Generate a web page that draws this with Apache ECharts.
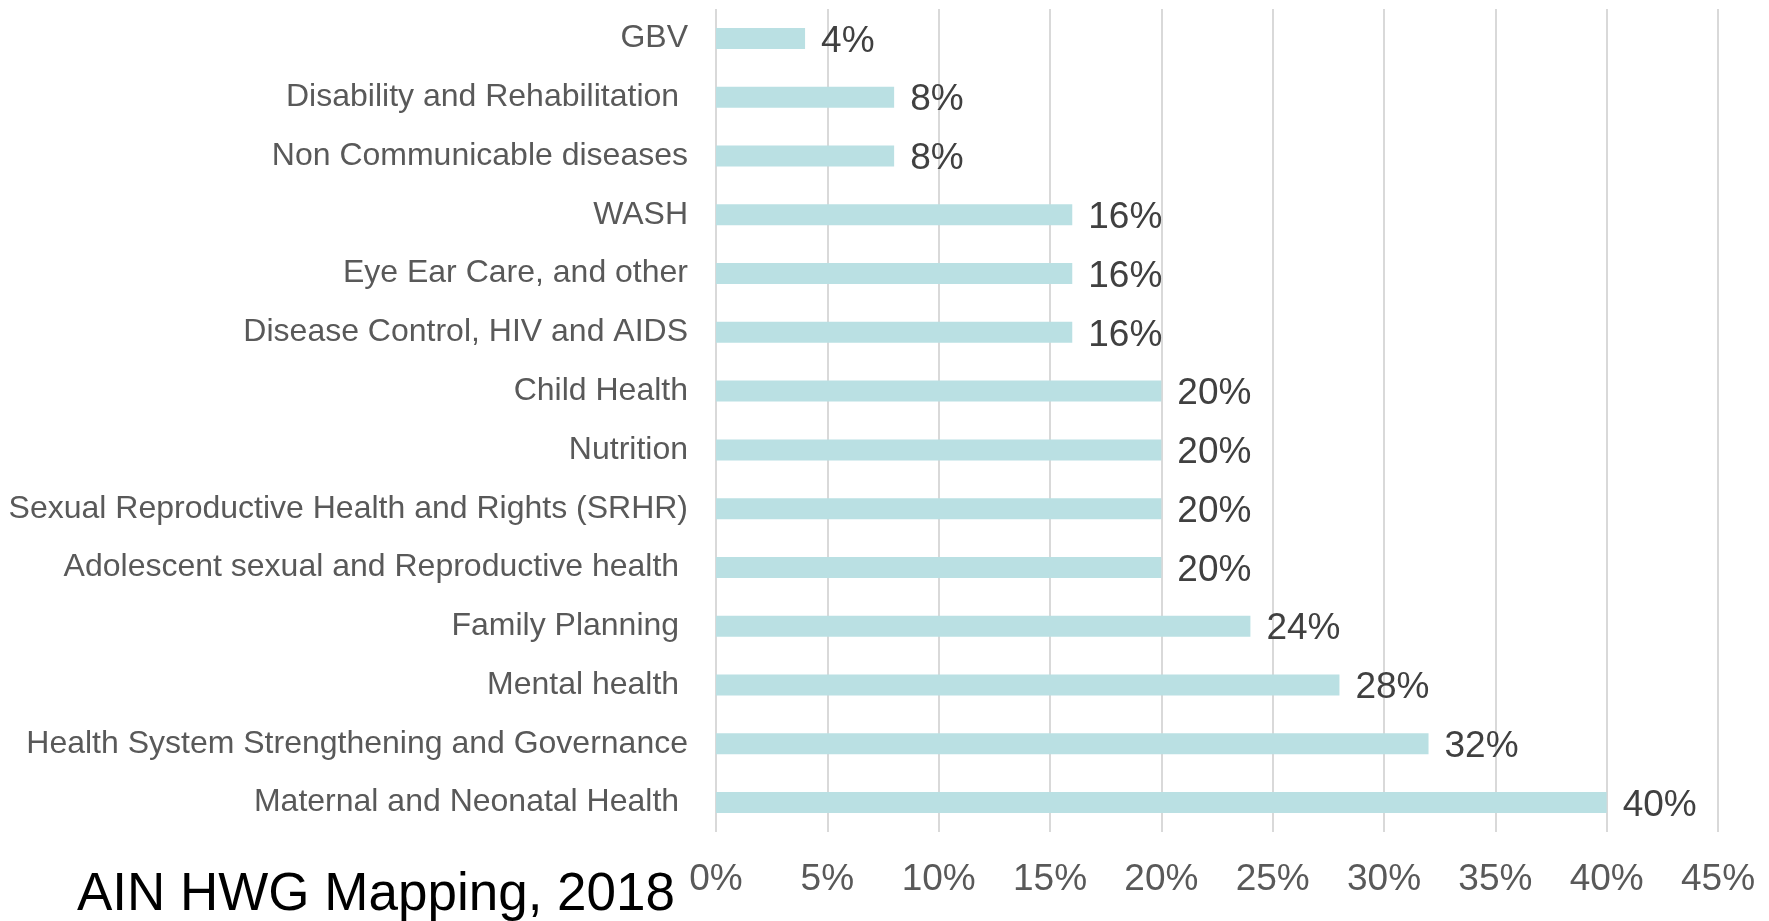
<!DOCTYPE html>
<html>
<head>
<meta charset="utf-8">
<script src="https://cdn.jsdelivr.net/npm/echarts@6/dist/echarts.min.js"></script>
<style>
  html, body { margin: 0; padding: 0; background: #fff; }
  #main { width: 1769px; height: 921px; }
</style>
</head>
<body>
<div id="main"></div>
<script>
// categories top to bottom (some have a trailing space, as in the source)
var categories = [
    'GBV',
    'Disability and Rehabilitation ',
    'Non Communicable diseases',
    'WASH',
    'Eye Ear Care, and other',
    'Disease Control, HIV and AIDS',
    'Child Health',
    'Nutrition',
    'Sexual Reproductive Health and Rights (SRHR)',
    'Adolescent sexual and Reproductive health ',
    'Family Planning ',
    'Mental health ',
    'Health System Strengthening and Governance',
    'Maternal and Neonatal Health '
];
// share of members (%)
var shares = [4, 8, 8, 16, 16, 16, 20, 20, 20, 20, 24, 28, 32, 40];
var axisMax = 45;
var axisStep = 5;
var caption = 'AIN HWG Mapping, 2018';

var font = 'Liberation Sans, Arial, sans-serif';

var chart = echarts.init(document.getElementById('main'));
chart.setOption({
    animation: false,
    grid: { left: 716, right: 51, top: 9, bottom: 89, containLabel: false },
    xAxis: {
        type: 'value',
        min: 0,
        max: axisMax,
        interval: axisStep,
        axisLine: { show: false },
        axisTick: { show: false },
        splitLine: { show: true, lineStyle: { color: '#d9d9d9', width: 2 } },
        axisLabel: {
            formatter: '{value}%',
            color: '#595959',
            fontFamily: font,
            fontSize: 37,
            margin: 29
        }
    },
    yAxis: {
        type: 'category',
        inverse: true,
        data: categories,
        axisLine: { show: false },
        axisTick: { show: false },
        axisLabel: {
            color: '#595959',
            fontFamily: font,
            fontSize: 32,
            margin: 28
        }
    },
    series: [{
        type: 'bar',
        data: shares,
        barWidth: 21,
        itemStyle: { color: '#bae0e3' },
        label: {
            show: true,
            position: 'right',
            distance: 16,
            offset: [0, 3],
            formatter: '{c}%',
            color: '#404040',
            fontFamily: font,
            fontSize: 37
        }
    }],
    graphic: [{
        type: 'text',
        left: 77,
        top: 869,
        style: {
            text: caption,
            fill: '#000',
            font: '53px ' + font
        }
    }]
});
</script>
</body>
</html>
